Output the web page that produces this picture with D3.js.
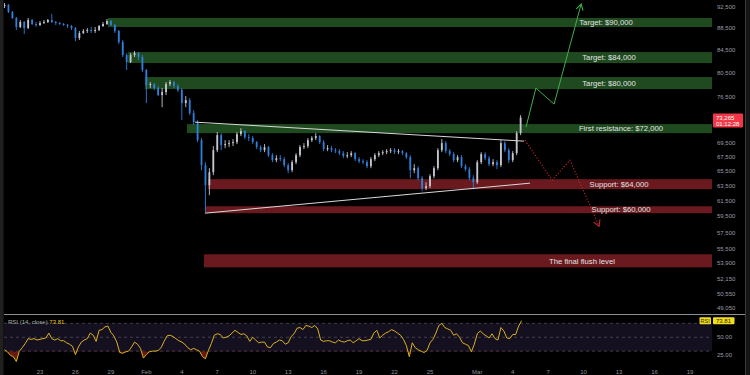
<!DOCTYPE html>
<html>
<head>
<meta charset="utf-8">
<script src="https://cdn.jsdelivr.net/npm/d3@7"></script>
<style>
  html, body { margin: 0; padding: 0; background: #000; }
  svg { display: block; font-family: "Liberation Sans", Arial, sans-serif; }
</style>
</head>
<body>
<svg id="chart" width="750" height="375"></svg>
<script>
// 8h candles, Jan 20 -> Mar 4
const candleStart = "2026-01-20T00:00Z";
const candleHours = 8;
const firstOpen = 92700;
const closes = [
  92890, 91530, 90385, 88680, 89620, 88495, 90000, 89245, 89060, 89430,
  89620, 90000, 89620, 89430, 89245, 89060, 88870, 88495, 86650, 87570,
  87935, 88120, 87935, 88120, 88870, 89245, 89810, 89060, 87935, 85920,
  83590, 82360, 83590, 83945, 83240, 80990, 78470, 78640, 77970, 76830,
  77315, 78640, 78970, 78300, 77640, 75540, 76020, 73960, 72570, 69870,
  66280, 63540, 65300, 68410, 70610, 69140, 69290, 69430, 69580, 70760,
  71210, 70310, 70170, 69580, 68850, 68410, 68850, 67690, 66980, 67260,
  67120, 66280, 65580, 66700, 67690, 68850, 68995, 69870, 70170, 70460,
  69580, 68560, 68700, 68410, 68270, 67980, 67550, 67690, 67980, 67120,
  66840, 66700, 66140, 67120, 67690, 67980, 68120, 68270, 68410, 68120,
  68270, 67980, 67410, 65580, 65860, 64480, 63140, 63410, 64755, 65860,
  68410, 69430, 68270, 67840, 66980, 67410, 66140, 65720, 64480, 63940,
  66700, 67840, 67260, 66420, 66700, 66280, 69430, 68410, 66980, 67980,
  70910, 73265
];
const highs = [
  93280, 93085, 91725, 90575, 90000, 89810, 90385, 90190, 89620, 89810,
  90000, 90190, 91150, 89810, 89620, 89430, 89245, 89060, 88680, 87935,
  88305, 88495, 88680, 88680, 89060, 89620, 90190, 90000, 89245, 88120,
  86280, 83945, 83945, 84300, 84120, 83590, 81160, 78970, 78800, 78300,
  77970, 78970, 79300, 79130, 78640, 77970, 76670, 76340, 74430, 72880,
  70170, 66700, 65860, 68995, 71060, 70910, 69870, 69870, 70020, 71060,
  71660, 71360, 70760, 70460, 69720, 69140, 69290, 68995, 67980, 67690,
  67690, 67410, 66560, 66980, 67980, 69140, 69430, 70170, 70460, 70910,
  70610, 69870, 69140, 68995, 68700, 68560, 68270, 68120, 68270, 68120,
  67410, 67120, 66980, 67410, 67980, 68270, 68410, 68560, 68700, 68700,
  68560, 68410, 68120, 67690, 66420, 66140, 64755, 63940, 65030, 66140,
  68700, 70020, 69720, 68560, 68120, 67690, 67690, 66420, 66000, 64890,
  66980, 68120, 68120, 67550, 67120, 66980, 69870, 69720, 68700, 68270,
  71210, 73650
];
const lows = [
  92305, 91340, 90190, 88120, 88495, 87385, 88305, 89060, 88680, 88870,
  89245, 89430, 89430, 89060, 89060, 88870, 88495, 88120, 86100, 86280,
  87385, 87570, 87570, 87570, 87935, 88680, 89060, 88870, 87570, 85560,
  83240, 80990, 82190, 83240, 82710, 80650, 75540, 77970, 77640, 76670,
  74900, 76830, 78300, 77970, 77315, 72880, 74900, 73650, 72110, 69580,
  65580, 60030, 62210, 64890, 68120, 68410, 68700, 68850, 68995, 69290,
  70460, 70020, 69720, 69290, 68560, 68120, 68120, 67410, 66700, 66700,
  66840, 66000, 65170, 65300, 66420, 67410, 68560, 68700, 69580, 69870,
  69290, 68270, 68270, 68120, 67980, 67690, 67260, 67260, 67410, 66840,
  66560, 66420, 65860, 65860, 66840, 67410, 67690, 67840, 67980, 67840,
  67840, 67690, 67120, 64480, 65170, 64210, 62740, 62870, 63140, 64480,
  65580, 68120, 67980, 67550, 66700, 66700, 65860, 65440, 64210, 63010,
  63675, 66420, 66980, 66140, 66140, 65720, 66000, 68120, 66560, 66700,
  67690, 70610
];

// RSI(14) read every 6h
const rsiStart = "2026-01-20T00:00Z";
const rsiHours = 6;
const rsiValues = [
  32, 29, 24, 22, 15, 30, 35, 41, 48, 47,
  48, 46, 47, 48, 49, 56, 48, 46, 48, 45,
  45, 42, 40, 37, 25, 36, 43, 46, 48, 56,
  53, 44, 60, 61, 65, 66, 57, 52, 43, 28,
  27, 29, 30, 36, 43, 40, 34, 20, 25, 29,
  30, 30, 31, 35, 44, 52, 53, 51, 48, 45,
  43, 40, 35, 32, 34, 32, 30, 22, 19, 31,
  41, 53, 55, 54, 49, 50, 52, 56, 60, 57,
  54, 55, 52, 44, 50, 46, 42, 43, 43, 36,
  35, 41, 43, 46, 45, 40, 42, 51, 55, 63,
  64, 61, 67, 66, 64, 67, 62, 46, 44, 45,
  45, 43, 42, 46, 44, 43, 45, 46, 42, 45,
  48, 45, 45, 46, 47, 56, 60, 49, 53, 56,
  58, 61, 59, 56, 53, 47, 38, 22, 42, 35,
  32, 30, 28, 31, 42, 47, 56, 67, 70, 64,
  62, 60, 53, 55, 50, 42, 40, 38, 29, 40,
  55, 59, 55, 52, 49, 55, 48, 46, 64, 59,
  49, 48, 54, 54, 66, 73.81
];
const rsiLast = 73.81;

const priceTicks = [92500, 88500, 84500, 80500, 76500, 69500, 67500, 65500, 63500,
  61500, 59500, 57500, 55500, 53900, 52150, 50550, 49050];
const rsiTicks = [50, 25];
const dayTickDates = ["2026-01-23", "2026-01-26", "2026-01-29", "2026-02-01", "2026-02-04",
  "2026-02-07", "2026-02-10", "2026-02-13", "2026-02-16", "2026-02-19", "2026-02-22",
  "2026-02-25", "2026-03-01", "2026-03-04", "2026-03-07", "2026-03-10", "2026-03-13",
  "2026-03-16", "2026-03-19"];
const dayTickLabels = ["23", "26", "29", "Feb", "4", "7", "10", "13", "16", "19", "22",
  "25", "Mar", "4", "7", "10", "13", "16", "19"];

const lastPrice = 73265;
const countdown = "01:12:28";

// drawn levels
const zoneNames = ["Target: $90,000", "Target: $84,000", "Target: $80,000",
  "First resistance: $72,000", "Support: $64,000", "Support: $60,000", "The final flush level"];
const zoneStarts = ["2026-01-28T18:00Z", "2026-01-30T11:00Z", "2026-01-31T21:00Z",
  "2026-02-04T10:30Z", "2026-02-06T05:00Z", "2026-02-05T23:00Z", "2026-02-05T21:00Z"];
const zoneTops = [90385, 84120, 79800, 72270, 64350, 60780, 54930];
const zoneBottoms = [88680, 82190, 77805, 70910, 63010, 59900, 53440];
const zoneKinds = ["up", "up", "up", "up", "down", "down", "down"];
const zoneLabelX = [606, 609, 609, 621, 619, 621, 582];

// triangle + scenario arrows
const upperTrend = [["2026-02-05T02:40Z", 72570], ["2026-03-04T23:00Z", 69720]];
const lowerTrend = [["2026-02-05T23:00Z", 59900], ["2026-03-05T11:00Z", 63810]];
const bullPath = [["2026-03-05T03:00Z", 71810], ["2026-03-05T23:00Z", 77970],
  ["2026-03-07T12:00Z", 75380], ["2026-03-09T19:00Z", 93085]];
const bearPath = [["2026-03-05T01:00Z", 69870], ["2026-03-07T08:00Z", 64210],
  ["2026-03-08T20:00Z", 66980], ["2026-03-11T07:30Z", 58280]];

const svg = d3.select("#chart");
const plotRight = 712;
const paneBottom = 314;

const x = d3.scaleUtc()
  .domain([new Date("2026-01-19T14:47Z"), new Date("2026-03-20T20:40Z")])
  .range([0, plotRight]);
const y = d3.scaleLog().domain([49050, 92500]).range([308, 7]);
const rsiY = d3.scaleLinear().domain([0, 100]).range([372, 302.5]);

const HOUR = 3600 * 1000;
const t0 = new Date(candleStart).getTime();
const candles = closes.map((c, i) => ({
  t: new Date(t0 + i * candleHours * HOUR),
  o: i === 0 ? firstOpen : closes[i - 1],
  c,
  h: highs[i],
  l: lows[i],
}));
const r0 = new Date(rsiStart).getTime();
const rsi = rsiValues.map((v, i) => ({ t: new Date(r0 + i * rsiHours * HOUR), v }));

const defs = svg.append("defs");
defs.append("clipPath").attr("id", "price-clip")
  .append("rect").attr("x", 4).attr("y", 0).attr("width", plotRight - 4).attr("height", paneBottom);
defs.append("clipPath").attr("id", "oversold-clip")
  .append("rect").attr("x", 4).attr("y", rsiY(30)).attr("width", plotRight - 4).attr("height", 30);

function arrowMarker(id, color) {
  defs.append("marker")
    .attr("id", id)
    .attr("markerUnits", "userSpaceOnUse")
    .attr("markerWidth", 12).attr("markerHeight", 12)
    .attr("refX", 0).attr("refY", 0)
    .attr("viewBox", "-8 -6 10 12")
    .attr("orient", "auto")
    .append("path")
    .attr("d", "M-6,-3.5 L0,0 L-6,3.5")
    .attr("fill", "none")
    .attr("stroke", color)
    .attr("stroke-width", 1.1);
}
arrowMarker("arrow-green", "#3fae49");
arrowMarker("arrow-red", "#c4262e");

svg.append("rect").attr("width", 750).attr("height", 375).attr("fill", "#000");

// frame strips
svg.append("rect").attr("x", 0).attr("y", 0).attr("width", 3.5).attr("height", 375).attr("fill", "#202020");
svg.append("rect").attr("x", 746).attr("y", 0).attr("width", 4).attr("height", 375).attr("fill", "#151515");
svg.append("line").attr("x1", 745.5).attr("x2", 745.5).attr("y1", 0).attr("y2", 375)
  .attr("stroke", "#3a3a3a");

const pricePane = svg.append("g").attr("clip-path", "url(#price-clip)");

// zones
const zones = zoneNames.map((name, i) => ({
  name, start: new Date(zoneStarts[i]), top: zoneTops[i], bottom: zoneBottoms[i],
  kind: zoneKinds[i], lx: zoneLabelX[i],
}));
pricePane.selectAll("rect.zone")
  .data(zones)
  .join("rect")
  .attr("class", "zone")
  .attr("x", (d) => x(d.start))
  .attr("y", (d) => y(d.top))
  .attr("width", (d) => plotRight - x(d.start))
  .attr("height", (d) => y(d.bottom) - y(d.top))
  .attr("fill", (d) => (d.kind === "up" ? "#1f4a20" : "#6a1a1f"));

// candles
const up = "#c4c7ce";
const down = "#2f80dc";
pricePane.selectAll("line.wick")
  .data(candles)
  .join("line")
  .attr("class", "wick")
  .attr("x1", (d) => x(d.t)).attr("x2", (d) => x(d.t))
  .attr("y1", (d) => y(d.h)).attr("y2", (d) => y(d.l))
  .attr("stroke", (d) => (d.c >= d.o ? up : down))
  .attr("stroke-width", 0.9);
pricePane.selectAll("rect.body")
  .data(candles)
  .join("rect")
  .attr("class", "body")
  .attr("x", (d) => x(d.t) - 0.9)
  .attr("width", 1.8)
  .attr("y", (d) => y(Math.max(d.o, d.c)))
  .attr("height", (d) => Math.max(1, y(Math.min(d.o, d.c)) - y(Math.max(d.o, d.c))))
  .attr("fill", (d) => (d.c >= d.o ? up : down));

// triangle lines
const pt = (d) => [x(new Date(d[0])), y(d[1])];
[upperTrend, lowerTrend].forEach((seg) => {
  pricePane.append("path")
    .attr("d", d3.line()(seg.map(pt)))
    .attr("stroke", "#d8d8d8")
    .attr("stroke-width", 1)
    .attr("fill", "none");
});

// scenario arrows
svg.append("path")
  .attr("d", d3.line()(bullPath.map(pt)))
  .attr("fill", "none")
  .attr("stroke", "#3fae49")
  .attr("stroke-width", 1)
  .attr("marker-end", "url(#arrow-green)");
svg.append("path")
  .attr("d", d3.line()(bearPath.map(pt)))
  .attr("fill", "none")
  .attr("stroke", "#c4262e")
  .attr("stroke-width", 1.1)
  .attr("stroke-dasharray", "1.2,1.8")
  .attr("marker-end", "url(#arrow-red)");

// zone labels
svg.selectAll("text.zone-label")
  .data(zones)
  .join("text")
  .attr("class", "zone-label")
  .attr("x", (d) => d.lx)
  .attr("y", (d) => (y(d.top) + y(d.bottom)) / 2)
  .attr("dy", "0.36em")
  .attr("text-anchor", "middle")
  .attr("font-size", 7.7)
  .attr("fill", "#e2e2e2")
  .text((d) => d.name);

// price axis
svg.selectAll("text.price-tick")
  .data(priceTicks)
  .join("text")
  .attr("class", "price-tick")
  .attr("x", 717)
  .attr("y", (d) => y(d))
  .attr("dy", "0.35em")
  .attr("font-size", 6)
  .attr("fill", "#9a9ea6")
  .text((d) => d3.format(",")(d));

const py = y(lastPrice);
svg.append("rect")
  .attr("x", 713).attr("y", py - 4).attr("width", 30).attr("height", 14)
  .attr("rx", 1).attr("fill", "#f23645");
svg.append("text").attr("x", 716).attr("y", py).attr("dy", "0.36em")
  .attr("font-size", 6).attr("fill", "#fff").text(d3.format(",")(lastPrice));
svg.append("text").attr("x", 716).attr("y", py + 6.5).attr("dy", "0.36em")
  .attr("font-size", 6).attr("fill", "#fff").text(countdown);

// RSI pane
svg.append("line")
  .attr("x1", 4).attr("x2", 745).attr("y1", paneBottom + 0.5).attr("y2", paneBottom + 0.5)
  .attr("stroke", "#8d8d8d");
svg.append("rect")
  .attr("x", 4).attr("y", rsiY(70)).attr("width", plotRight - 4).attr("height", rsiY(30) - rsiY(70))
  .attr("fill", "#14101f");
svg.selectAll("line.rsi-level")
  .data([70, 50, 30])
  .join("line")
  .attr("class", "rsi-level")
  .attr("x1", 4).attr("x2", plotRight)
  .attr("y1", (d) => rsiY(d)).attr("y2", (d) => rsiY(d))
  .attr("stroke", "#4c4b58")
  .attr("stroke-width", 0.8)
  .attr("stroke-dasharray", "3,3");

svg.append("path")
  .datum(rsi)
  .attr("clip-path", "url(#oversold-clip)")
  .attr("d", d3.area().x((d) => x(d.t)).y0(rsiY(30)).y1((d) => rsiY(d.v)))
  .attr("fill", "#7a1e16")
  .attr("opacity", 0.85);
svg.append("path")
  .datum(rsi)
  .attr("d", d3.line().x((d) => x(d.t)).y((d) => rsiY(d.v)))
  .attr("fill", "none")
  .attr("stroke", "#d9b21f")
  .attr("stroke-width", 1);

const rsiTitle = svg.append("text").attr("x", 8).attr("y", 323.5).attr("font-size", 6);
rsiTitle.append("tspan").attr("fill", "#aeb1b8").text("RSI (14, close) ");
rsiTitle.append("tspan").attr("fill", "#e8c31c").text(rsiLast.toFixed(2));

svg.selectAll("text.rsi-tick")
  .data(rsiTicks)
  .join("text")
  .attr("class", "rsi-tick")
  .attr("x", 717)
  .attr("y", (d) => rsiY(d))
  .attr("dy", "0.35em")
  .attr("font-size", 6)
  .attr("fill", "#9a9ea6")
  .text((d) => d.toFixed(2));

const ry = rsiY(rsiLast);
svg.append("rect").attr("x", 699.5).attr("y", ry - 3.5).attr("width", 11.5).attr("height", 7)
  .attr("rx", 1).attr("fill", "#f2dc1e");
svg.append("text").attr("x", 705.2).attr("y", ry).attr("dy", "0.36em").attr("text-anchor", "middle")
  .attr("font-size", 5.5).attr("fill", "#2a2500").text("RSI");
svg.append("rect").attr("x", 713).attr("y", ry - 3.5).attr("width", 21.5).attr("height", 7)
  .attr("rx", 1).attr("fill", "#f2dc1e");
svg.append("text").attr("x", 716).attr("y", ry).attr("dy", "0.36em")
  .attr("font-size", 6).attr("fill", "#2a2500").text(rsiLast.toFixed(2));

// time axis
svg.selectAll("text.day-tick")
  .data(dayTickDates)
  .join("text")
  .attr("class", "day-tick")
  .attr("x", (d) => x(new Date(d + "T00:00Z")))
  .attr("y", 373.5)
  .attr("text-anchor", "middle")
  .attr("font-size", 6)
  .attr("fill", "#8e9299")
  .text((d, i) => dayTickLabels[i]);
</script>
</body>
</html>
